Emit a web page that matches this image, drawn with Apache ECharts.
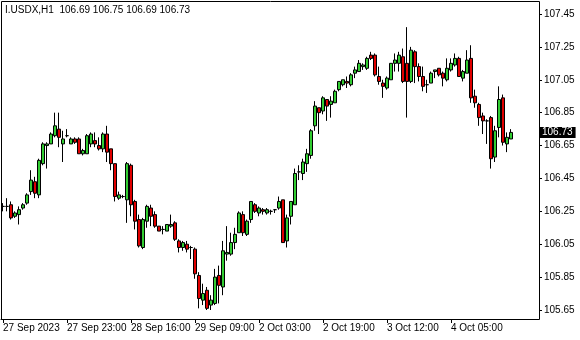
<!DOCTYPE html>
<html><head><meta charset="utf-8">
<script src="https://cdn.jsdelivr.net/npm/echarts@6/dist/echarts.min.js"></script>
<style>html,body{margin:0;padding:0;background:#fff}#c{width:580px;height:340px}</style>
</head><body><div id="c"></div>
<script>
const symbolName = 'I.USDX,H1';
const tickLabels = ['27 Sep 2023','27 Sep 23:00','28 Sep 16:00','29 Sep 09:00','2 Oct 03:00','2 Oct 19:00','3 Oct 12:00','4 Oct 05:00'];
const barsPerTick = 16;
const totalSlots = 134;
const yMin = 105.65, yMax = 107.45, yStep = 0.2;

const opens = [106.28,106.28,106.29,106.22,106.23,106.27,106.30,106.37,106.43,106.35,
106.54,106.65,106.66,106.71,106.75,106.66,106.71,106.66,106.69,106.69,
106.60,106.60,106.66,106.68,106.65,106.63,106.72,106.63,106.54,106.33,
106.34,106.32,106.53,106.31,106.20,106.03,106.19,106.27,106.23,106.16,
106.14,106.13,106.16,106.18,106.07,106.03,106.05,106.03,106.02,105.86,
105.71,105.77,105.68,105.69,105.86,105.79,105.99,105.99,106.06,106.12,
106.23,106.11,106.20,106.29,106.24,106.26,106.24,106.25,106.26,106.27,
106.32,106.07,106.22,106.29,106.49,106.48,106.54,106.59,106.77,106.88,
106.86,106.93,106.90,106.91,106.99,107.02,107.04,107.02,107.09,107.10,
107.13,107.12,107.20,107.20,107.07,107.03,107.00,107.05,107.15,107.15,
107.19,107.15,107.04,107.22,107.13,107.07,107.02,107.03,107.10,107.12,
107.09,107.05,107.11,107.14,107.18,107.06,107.09,107.18,106.95,106.90,
106.83,106.80,106.82,106.58,106.76,106.94,106.66,106.69];
const highs = [106.30,106.33,106.31,106.25,106.28,106.30,106.36,106.50,106.46,106.57,
106.67,106.67,106.73,106.85,106.85,106.74,106.75,106.70,106.70,106.70,
106.63,106.72,106.73,106.73,106.70,106.73,106.77,106.63,106.54,106.37,
106.35,106.55,106.54,106.32,106.23,106.21,106.29,106.29,106.25,106.16,
106.16,106.17,106.23,106.19,106.08,106.07,106.07,106.04,106.03,105.88,
105.81,105.79,105.74,105.90,105.92,106.07,106.16,106.12,106.15,106.25,
106.25,106.20,106.31,106.30,106.28,106.27,106.27,106.26,106.26,106.34,
106.32,106.23,106.31,106.51,106.53,106.57,106.63,106.75,106.92,106.88,
106.95,106.93,106.95,106.99,107.04,107.05,107.07,107.09,107.13,107.17,
107.15,107.19,107.22,107.21,107.13,107.05,107.07,107.15,107.21,107.22,
107.24,107.37,107.25,107.23,107.15,107.13,107.05,107.10,107.11,107.12,
107.10,107.18,107.18,107.21,107.19,107.11,107.23,107.26,106.99,106.91,
106.85,106.81,106.83,106.77,107.01,106.96,106.73,106.75];
const lows = [106.25,106.25,106.20,106.21,106.17,106.26,106.29,106.35,106.33,106.33,
106.53,106.51,106.66,106.70,106.64,106.55,106.70,106.66,106.66,106.60,
106.59,106.60,106.64,106.64,106.62,106.61,106.55,106.50,106.31,106.32,
106.33,106.18,106.22,106.14,106.03,106.02,106.15,106.16,106.15,106.13,
106.11,106.13,106.15,106.07,106.00,106.01,106.00,105.96,105.84,105.66,
105.68,105.65,105.65,105.68,105.69,105.74,105.95,105.98,106.02,106.12,
106.10,106.10,106.18,106.24,106.22,106.23,106.23,106.23,106.24,106.26,
106.06,106.03,106.17,106.29,106.44,106.44,106.49,106.57,106.74,106.72,
106.84,106.80,106.82,106.91,106.98,107.01,107.00,107.01,107.06,107.10,
107.11,107.11,107.17,107.07,107.02,106.94,106.99,107.05,107.10,107.10,
107.03,106.82,107.03,107.03,107.04,106.98,106.97,107.03,107.06,107.07,
107.01,107.04,107.10,107.13,107.07,107.04,107.09,106.91,106.88,106.77,
106.72,106.66,106.51,106.55,106.70,106.65,106.61,106.69];
const closes = [106.28,106.28,106.21,106.24,106.26,106.29,106.35,106.44,106.36,106.56,
106.66,106.66,106.72,106.77,106.70,106.69,106.71,106.69,106.67,106.60,
106.62,106.71,106.72,106.66,106.63,106.72,106.61,106.54,106.34,106.35,
106.34,106.54,106.29,106.19,106.04,106.20,106.28,106.22,106.16,106.13,
106.14,106.17,106.17,106.08,106.03,106.06,106.02,106.03,105.87,105.72,
105.75,105.66,105.71,105.85,105.80,106.01,106.00,106.06,106.11,106.24,
106.12,106.19,106.31,106.25,106.27,106.25,106.26,106.25,106.26,106.31,
106.06,106.21,106.31,106.48,106.49,106.55,106.60,106.74,106.89,106.85,
106.94,106.89,106.92,106.98,107.04,107.05,107.03,107.08,107.11,107.15,
107.14,107.18,107.18,107.08,107.04,107.01,107.06,107.15,107.17,107.20,
107.04,107.04,107.23,107.13,107.07,107.01,107.02,107.09,107.11,107.08,
107.06,107.12,107.15,107.18,107.07,107.10,107.17,106.94,106.91,106.82,
106.80,106.80,106.57,106.74,106.93,106.67,106.70,106.73];

const categories = [];
for (let i = 0; i < totalSlots; i++) {
  const k = i / barsPerTick;
  categories.push(i % barsPerTick === 0 && tickLabels[k] ? tickLabels[k] : '');
}
const ohlc = opens.map((o, i) => [o, closes[i], lows[i], highs[i]]);
const last = opens.length - 1;
const header = symbolName + '  ' + [opens[last], highs[last], lows[last], closes[last]].map(v => v.toFixed(2)).join(' ');
const showTick = (i) => i % barsPerTick === 0 && i < opens.length;
const FONT = 'Liberation Sans';

const chart = echarts.init(document.getElementById('c'), null, {renderer: 'canvas'});
chart.setOption({
  animation: false,
  backgroundColor: '#fff',
  textStyle: {fontFamily: FONT},
  grid: {left: 1, right: 43, top: 14, bottom: 30},
  xAxis: {
    type: 'category', data: categories, boundaryGap: true, offset: 9,
    axisLine: {show: true, lineStyle: {color: '#000', width: 1}},
    axisTick: {show: true, alignWithLabel: true, interval: showTick, length: 4, lineStyle: {color: '#000'}},
    axisLabel: {interval: showTick, align: 'left', margin: 4, color: '#000', fontSize: 10, fontFamily: FONT},
    splitLine: {show: false}
  },
  yAxis: {
    type: 'value', position: 'right', offset: 2, scale: true,
    min: yMin, max: yMax, interval: yStep,
    axisLine: {show: true, lineStyle: {color: '#000', width: 1}},
    axisTick: {show: true, length: 3, lineStyle: {color: '#000'}},
    axisLabel: {margin: 5, color: '#000', fontSize: 10, fontFamily: FONT, formatter: v => v.toFixed(2)},
    splitLine: {show: false}
  },
  series: [{
    type: 'candlestick', data: ohlc, barWidth: 3,
    itemStyle: {color: '#32cd32', color0: '#e00000', borderColor: '#000', borderColor0: '#000', borderColorDoji: '#000', borderWidth: 1},
    markLine: {
      symbol: 'none', silent: true, animation: false,
      lineStyle: {color: 'rgba(0,0,0,0)', width: 0, type: 'solid'},
      data: [{yAxis: closes[last]}],
      label: {show: true, position: 'end', distance: 3, formatter: closes[last].toFixed(2), color: '#fff', backgroundColor: '#000', padding: [1, 3, 0, 2], fontSize: 10, fontFamily: FONT}
    }
  }],
  graphic: [
    {type: 'rect', shape: {x: 1.5, y: 1.5, width: 538, height: 318}, style: {fill: 'none', stroke: '#000', lineWidth: 1}, z: 10, silent: true},
    {type: 'text', left: 5, top: 5, style: {text: header, fill: '#000', font: '10px "' + FONT + '"'}, z: 10}
  ]
});
</script></body></html>
